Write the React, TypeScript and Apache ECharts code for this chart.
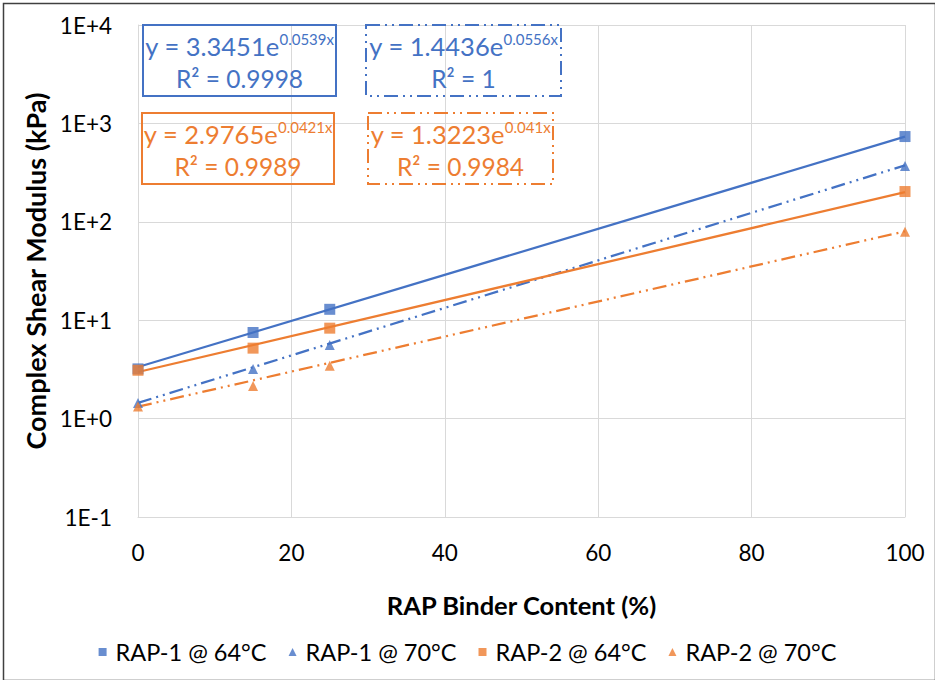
import React, { useEffect, useRef } from "react";
import * as echarts from "echarts";

const BLUE = "#4472C4";
const ORANGE = "#ED7D31";
const FONT = "Lato, 'Open Sans', sans-serif";

const binderContent = [0, 15, 25, 100];
const rap1At64 = [3.2, 7.5, 12.9, 735];
const rap1At70 = [1.44, 3.2, 5.6, 370];
const rap2At64 = [3.1, 5.2, 8.3, 203];
const rap2At70 = [1.33, 2.15, 3.45, 79];

const trendX = [0, 100];
const trend1At64 = [3.3451, 733];
const trend1At70 = [1.4436, 375];
const trend2At64 = [2.9765, 200];
const trend2At70 = [1.3223, 80];

const seriesNames = ["RAP-1 @ 64°C", "RAP-1 @ 70°C", "RAP-2 @ 64°C", "RAP-2 @ 70°C"];
const equations = [
  { coef: "3.3451", exp: "0.0539x", r2: "0.9998" },
  { coef: "1.4436", exp: "0.0556x", r2: "1" },
  { coef: "2.9765", exp: "0.0421x", r2: "0.9989" },
  { coef: "1.3223", exp: "0.041x", r2: "0.9984" },
];

const xTicks = { min: 0, max: 100, interval: 20 };
const yRange = { min: 0.1, max: 10000 };

const dashDot = [14, 5, 2, 5, 2, 5];

export default function App() {
  const ref = useRef<HTMLDivElement>(null);
  useEffect(() => {
    document.body.style.margin = "0";
    const chart = echarts.init(ref.current!, null, { renderer: "svg" });
    const pts = (ys: number[]) => binderContent.map((x, i) => [x, ys[i]]);
    const tr = (ys: number[]) => trendX.map((x, i) => [x, ys[i]]);

    const boxes = [
      { x: 143, y: 25, w: 193, h: 71, color: BLUE, dash: null as any },
      { x: 366, y: 25, w: 195, h: 71, color: BLUE, dash: dashDot },
      { x: 142, y: 113, w: 192, h: 71, color: ORANGE, dash: null as any },
      { x: 368, y: 113, w: 185, h: 71, color: ORANGE, dash: dashDot },
    ];

    const graphics: any[] = [
      {
        type: "rect",
        left: 1,
        top: 1,
        shape: { x: 0, y: 0, width: 932, height: 677 },
        style: { fill: "none", stroke: "#404040", lineWidth: 1.5 },
        silent: true,
      },
    ];
    boxes.forEach((b, i) => {
      const eq = equations[i];
      graphics.push({
        type: "rect",
        shape: { x: b.x, y: b.y, width: b.w, height: b.h },
        style: { fill: "none", stroke: b.color, lineWidth: 2, lineDash: b.dash || undefined },
        silent: true,
        z: 10,
      });
      graphics.push({
        type: "text",
        x: b.x + b.w / 2,
        y: b.y + 20,
        style: {
          text: `{a|y = ${eq.coef}e}{b|${eq.exp}}`,
          textAlign: "center",
          textVerticalAlign: "middle",
          rich: {
            a: { fontSize: 25.5, fontFamily: FONT, fill: b.color, lineHeight: 28, verticalAlign: "bottom" },
            b: { fontSize: 15, fontFamily: FONT, fill: b.color, lineHeight: 18, verticalAlign: "top" },
          },
        },
        silent: true,
        z: 10,
      });
      graphics.push({
        type: "text",
        x: b.x + b.w / 2,
        y: b.y + 53,
        style: {
          text: `R² = ${eq.r2}`,
          textAlign: "center",
          textVerticalAlign: "middle",
          fontSize: 24.5,
          fontFamily: FONT,
          fill: b.color,
        },
        silent: true,
        z: 10,
      });
    });

    const scatter = (name: string, ys: number[], color: string, symbol: string, size: number) => ({
      name,
      type: "scatter",
      data: pts(ys),
      symbol,
      symbolSize: size,
      itemStyle: { color },
      z: 5,
    });
    const trend = (ys: number[], color: string, dash: any) => ({
      type: "line",
      data: tr(ys),
      showSymbol: false,
      symbol: "none",
      silent: true,
      lineStyle: { color, width: 2.25, type: dash },
      z: 3,
    });

    chart.setOption({
      animation: false,
      textStyle: { fontFamily: FONT },
      grid: { left: 138, right: 30, top: 25, bottom: 163, containLabel: false },
      legend: {
        data: seriesNames.map((n, i) => ({ name: n, icon: i % 2 === 0 ? "rect" : "triangle" })),
        top: 635,
        left: "center",
        itemWidth: 8,
        itemHeight: 8,
        itemGap: 22,
        textStyle: { fontSize: 23.5, color: "#000", fontFamily: FONT, padding: [0, 0, 0, 4] },
      },
      xAxis: {
        type: "value",
        min: xTicks.min,
        max: xTicks.max,
        interval: xTicks.interval,
        name: "RAP Binder Content (%)",
        nameLocation: "middle",
        nameGap: 75,
        nameTextStyle: { fontSize: 25.5, fontWeight: "bold", color: "#000", fontFamily: FONT },
        axisLine: { show: true, lineStyle: { color: "#d9d9d9" } },
        axisTick: { show: false },
        axisLabel: { fontSize: 22.5, color: "#000", margin: 24, fontFamily: FONT },
        splitLine: { show: true, lineStyle: { color: "#d9d9d9", width: 1 } },
      },
      yAxis: {
        type: "log",
        logBase: 10,
        min: yRange.min,
        max: yRange.max,
        name: "Complex Shear Modulus (kPa)",
        nameLocation: "middle",
        nameGap: 86,
        nameTextStyle: { fontSize: 27, fontWeight: "bold", color: "#000", fontFamily: FONT },
        axisLine: { show: true, lineStyle: { color: "#d9d9d9" } },
        axisTick: { show: false },
        axisLabel: {
          fontSize: 22.5,
          color: "#000",
          margin: 26,
          fontFamily: FONT,
          formatter: (v: number) => {
            const e = Math.round(Math.log10(v));
            return "1E" + (e >= 0 ? "+" : "") + e;
          },
        },
        splitLine: { show: true, lineStyle: { color: "#d9d9d9", width: 1 } },
      },
      series: [
        trend(trend1At64, BLUE, "solid"),
        trend(trend1At70, BLUE, dashDot),
        trend(trend2At64, ORANGE, "solid"),
        trend(trend2At70, ORANGE, dashDot),
        scatter(seriesNames[0], rap1At64, BLUE, "rect", 11),
        scatter(seriesNames[1], rap1At70, BLUE, "triangle", 10),
        scatter(seriesNames[2], rap2At64, ORANGE, "rect", 11),
        scatter(seriesNames[3], rap2At70, ORANGE, "triangle", 10),
      ],
      graphic: graphics,
    });
    return () => chart.dispose();
  }, []);
  return <div ref={ref} style={{ width: 935, height: 680 }} />;
}
